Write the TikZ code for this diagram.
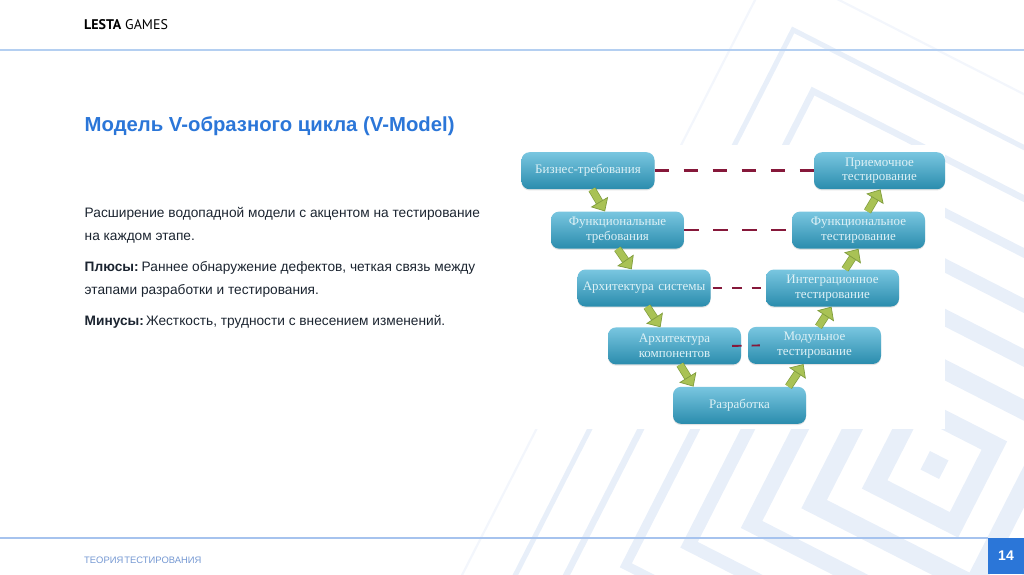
\documentclass[tikz,border=0pt]{standalone}
\usepackage{fontspec}
\setmainfont{Liberation Sans}
\newfontfamily\stagefont{Liberation Serif}
\newfontfamily\logofont{PT Sans}
\usepackage{xcolor}
\usetikzlibrary{positioning,arrows.meta,shadows}

\definecolor{bandblue}{HTML}{E8EFF9}
\definecolor{bandfaint}{HTML}{F3F6FC}
\definecolor{headrulecol}{HTML}{B4CFF1}
\definecolor{footrulecol}{HTML}{A6C3EE}
\definecolor{titleblue}{HTML}{2B76D8}
\definecolor{bodyink}{HTML}{1B2430}
\definecolor{footink}{HTML}{7598D2}
\definecolor{stagetop}{HTML}{79C6E0}
\definecolor{stagebot}{HTML}{2A8CAD}
\definecolor{stageink}{HTML}{DDF1F6}
\definecolor{linkred}{HTML}{86183A}
\definecolor{flowfill}{HTML}{A9C255}
\definecolor{flowedge}{HTML}{7F9C3C}

\begin{document}
\begin{tikzpicture}[
    x=1pt, y=-1pt,
    node distance=22pt,
    stagebox/.style={rectangle, rounded corners=8pt, align=center, inner sep=0pt,
                text width=131pt, minimum width=133pt, minimum height=37pt,
                top color=stagetop, bottom color=stagebot, text=stageink,
                drop shadow={opacity=.22, shadow xshift=0pt, shadow yshift=-1.2pt},
                font=\stagefont\fontsize{13}{14.7}\selectfont},
    flow/.style={line width=.7pt, draw=flowedge, double=flowfill, double distance=6.5pt,
                 -{Triangle[length=11pt, width=20pt, fill=flowfill]}},
    link/.style={draw=linkred, line width=2.6pt, dash pattern=on 14.7pt off 14.3pt},
    shortlink/.style={draw=linkred, line width=1.9pt, dash pattern=on 9.5pt off 10pt},
    bodytext/.style={anchor=base west, align=left, inner sep=0pt, text=bodyink,
                 font=\fontsize{13.7}{23}\selectfont},
  ]
    \useasboundingbox (0,0) rectangle (1024,574);
    % background squares
    \begin{scope}
      \clip (0,0) rectangle (1024,574);
      \begin{scope}[shift={(934.5,465)}, rotate=-27]
        \foreach \half/\wide in {5.2/10.4, 44.5/19, 89.5/19, 136/16, 182.5/13, 229.5/9, 278/6.5, 323.5/5}
          \draw[bandblue, line width=\wide pt] (-\half,-\half) rectangle (\half,\half);
        \draw[bandfaint, line width=2.2pt] (-371,-371) rectangle (371,371);
      \end{scope}
    \end{scope}
    \fill[white] (518,145) rectangle (944.5,428.5);

    % header and footer rules
    \fill[headrulecol] (0,48.5) rectangle (1024,50.5);
    \fill[footrulecol] (0,536.5) rectangle (988,538.5);
    \node[rectangle, fill=titleblue, minimum width=36pt, minimum height=36.5pt, inner sep=0pt,
          text=white, font=\bfseries\fontsize{14}{14}\selectfont] (pageno) at (1006,555.75) {14};

    \node[anchor=base west, inner sep=0pt, text=black, font=\logofont\fontsize{14}{14}\selectfont] (logo) at (84,29.5) {\textbf{LESTA} GAMES};
    \node[anchor=base west, inner sep=0pt, text=titleblue, font=\bfseries\fontsize{20.3}{24}\selectfont] (title) at (84.5,131.5) {Модель V-образного цикла (V-Model)};
    \node[bodytext] (para) at (84.5,240.7) {Расширение водопадной модели с акцентом на тестирование\\на каждом этапе.};
    \node[bodytext] (plus) at (84.5,294) {\textbf{Плюсы:}\kern-2pt{} Раннее обнаружение дефектов, четкая связь между\\этапами разработки и тестирования.};
    \node[bodytext] (minus) at (84.5,325) {\textbf{Минусы:}\kern-3pt{} Жесткость, трудности с внесением изменений.};
    \node[anchor=base west, inner sep=0pt, text=footink, font=\fontsize{9.4}{11}\selectfont] (foot) at (84,563.5) {ТЕОРИЯ\hspace{-1.5pt} ТЕСТИРОВАНИЯ};

    % left arm
    \node[stagebox] (biz) at (588,170.7) {Бизнес-требования};
    \node[stagebox, below=of biz, xshift=29.5pt] (funcreq) {Функциональные\\требования};
    \node[stagebox, below=20.5pt of funcreq, xshift=26.5pt] (archsys) {Архитектура системы};
    \node[stagebox, below=20.5pt of archsys, xshift=30.5pt] (archcomp) {Архитектура\\компонентов};
    \node[stagebox, below=of archcomp, xshift=65pt] (dev) {Разработка};
    % right arm
    \node[stagebox, minimum width=131pt] (accept) at (879.5,170.7) {Приемочное\\тестирование};
    \node[stagebox, below=of accept, xshift=-21pt] (functest) {Функциональное\\тестирование};
    \node[stagebox, below=20.5pt of functest, xshift=-26pt] (integ) {Интеграционное\\тестирование};
    \node[stagebox, below=20pt of integ, xshift=-18pt] (unit) {Модульное\\тестирование};

    \draw[flow] ([xshift=4pt]biz.south) -- ([xshift=-12.5pt]funcreq.north);
    \draw[flow] (funcreq.south) -- ([xshift=-12.3pt]archsys.north);
    \draw[flow] ([xshift=3pt]archsys.south) -- ([xshift=-14pt]archcomp.north);
    \draw[flow] ([xshift=5.5pt]archcomp.south) -- ([xshift=-46pt]dev.north);
    \draw[flow] ([xshift=49pt]dev.north) -- ([xshift=-11pt]unit.south);
    \draw[flow] ([xshift=4pt]unit.north) -- ([xshift=-1pt]integ.south);
    \draw[flow] ([xshift=12.5pt]integ.north) -- (functest.south);
    \draw[flow] ([xshift=9pt]functest.north) -- ([xshift=1pt]accept.south);

    \draw[link] (biz.east) -- (accept.west);
    \draw[link] (funcreq.east) -- (functest.west);
    \draw[shortlink, shorten <=2pt] (archsys.east) -- (integ.west);
    \draw[shortlink] ([xshift=-9pt]archcomp.east) -- ([xshift=12pt]unit.west);
  \end{tikzpicture}
\end{document}
